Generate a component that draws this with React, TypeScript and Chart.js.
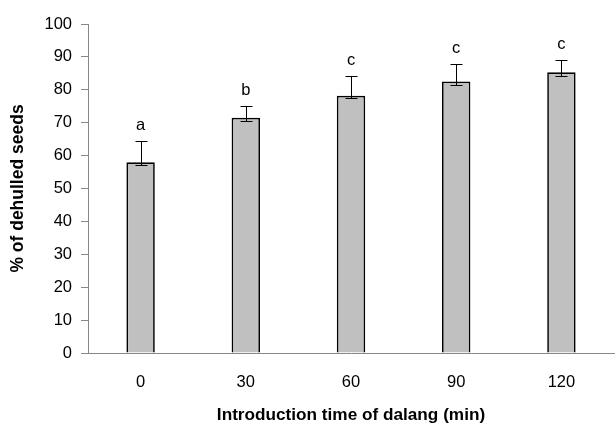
import React, { useEffect, useRef } from "react";
import { Chart, registerables } from "chart.js";

Chart.register(...registerables);

const categories = ["0", "30", "60", "90", "120"];
const means = [58.0, 71.5, 78.2, 82.5, 85.3];
const errUpper = [64.5, 75.1, 84.2, 87.9, 89.2];
const errLower = [57.2, 70.5, 77.5, 81.6, 84.3];
const letters = ["a", "b", "c", "c", "c"];
const yTicks = [0, 10, 20, 30, 40, 50, 60, 70, 80, 90, 100];

const FONT = "'Liberation Sans', Arial, sans-serif";

const errorPlugin = {
  id: "errorBars",
  afterDatasetsDraw(chart: any) {
    const ctx = chart.ctx;
    const meta = chart.getDatasetMeta(0);
    const y = chart.scales.y;
    ctx.save();
    ctx.strokeStyle = "#000";
    ctx.lineWidth = 1;
    meta.data.forEach((bar: any, i: number) => {
      const x = Math.round(bar.x) + 0.5;
      const yt = Math.round(y.getPixelForValue(errUpper[i])) + 0.5;
      const yb = Math.round(y.getPixelForValue(errLower[i])) + 0.5;
      ctx.beginPath();
      ctx.moveTo(x, yt);
      ctx.lineTo(x, yb);
      ctx.moveTo(x - 6, yt);
      ctx.lineTo(x + 6, yt);
      ctx.moveTo(x - 6, yb);
      ctx.lineTo(x + 6, yb);
      ctx.stroke();
      ctx.fillStyle = "#000";
      ctx.font = `16.5px ${FONT}`;
      ctx.textAlign = "center";
      ctx.textBaseline = "alphabetic";
      ctx.fillText(letters[i], bar.x, yt - 12);
    });
    ctx.restore();
  },
};

export default function App() {
  const ref = useRef<HTMLCanvasElement>(null);
  useEffect(() => {
    if (!ref.current) return;
    const chart = new Chart(ref.current, {
      type: "bar",
      data: {
        labels: categories,
        datasets: [
          {
            data: means,
            backgroundColor: "#c0c0c0",
            borderColor: "#000",
            borderWidth: 1.7,
            barPercentage: 0.27,
            categoryPercentage: 1,
          },
        ],
      },
      options: {
        animation: false,
        responsive: false,
        layout: { padding: { top: 24, right: 2, left: 0, bottom: 0 } },
        plugins: { legend: { display: false }, tooltip: { enabled: false } },
        scales: {
          x: {
            grid: { display: false, drawTicks: false },
            border: { color: "#888", width: 1 },
            ticks: { color: "#000", font: { family: FONT, size: 16.5 }, padding: 20 },
            title: {
              display: true,
              text: "Introduction time of dalang (min)",
              color: "#000",
              font: { family: FONT, size: 17.2, weight: "bold", lineHeight: 1 },
              padding: { top: 0, bottom: 0 },
            },
            afterFit(scale: any) {
              scale.height = 71;
            },
          },
          y: {
            min: 0,
            max: 100,
            afterBuildTicks(scale: any) {
              scale.ticks = yTicks.map((v) => ({ value: v }));
            },
            grid: { drawOnChartArea: false, drawTicks: true, tickLength: 7, color: "#888" },
            border: { color: "#888", width: 1 },
            ticks: { color: "#000", font: { family: FONT, size: 16.5 }, padding: 9 },
            title: {
              display: true,
              text: "% of dehulled seeds",
              color: "#000",
              font: { family: FONT, size: 17.5, weight: "bold", lineHeight: 1 },
              padding: { top: 9.5, bottom: 0 },
            },
            afterFit(scale: any) {
              scale.width = 88;
            },
          },
        },
      },
      plugins: [errorPlugin],
    });
    return () => chart.destroy();
  }, []);
  return (
    <div style={{ position: "absolute", left: 0, top: 0, width: 616, height: 424, background: "#fff" }}>
      <canvas ref={ref} width={616} height={424} style={{ width: 616, height: 424 }} />
    </div>
  );
}
